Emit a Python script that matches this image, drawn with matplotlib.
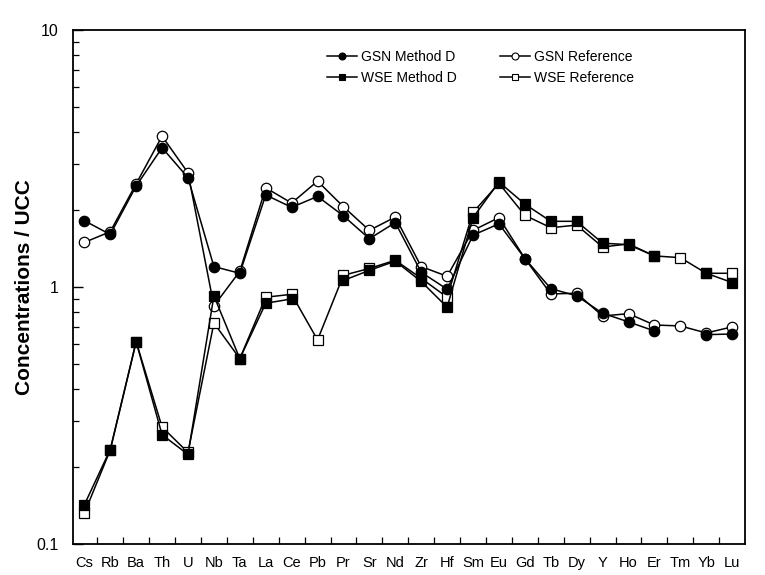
import numpy as np
import matplotlib
matplotlib.use("Agg")
import matplotlib.pyplot as plt
from matplotlib.ticker import FixedLocator, FuncFormatter, NullFormatter

plt.rcParams['font.family'] = ['Liberation Sans', 'DejaVu Sans']

elements = ['Cs', 'Rb', 'Ba', 'Th', 'U', 'Nb', 'Ta', 'La', 'Ce', 'Pb', 'Pr', 'Sr', 'Nd',
            'Zr', 'Hf', 'Sm', 'Eu', 'Gd', 'Tb', 'Dy', 'Y', 'Ho', 'Er', 'Tm', 'Yb', 'Lu']

nan = np.nan
# UCC-normalised concentrations (gaps where Method D gives no value)
gsn_method_d = [1.81, 1.60, 2.47, 3.48, 2.66, 1.20, 1.13, 2.28, 2.04, 2.25, 1.89, 1.54, 1.78,
                1.14, 0.98, 1.59, 1.76, 1.29, 0.985, 0.923, 0.79, 0.731, 0.674, nan, 0.652, 0.656]
gsn_reference = [1.49, 1.64, 2.52, 3.86, 2.78, 0.844, 1.15, 2.43, 2.12, 2.58, 2.05, 1.66, 1.87,
                 1.20, 1.10, 1.66, 1.86, 1.29, 0.939, 0.945, 0.771, 0.787, 0.711, 0.705, 0.662, 0.699]
wse_method_d = [0.142, 0.233, 0.612, 0.266, 0.223, 0.923, 0.526, 0.864, 0.898, nan, 1.06, 1.16, 1.26,
                1.05, 0.834, 1.86, 2.56, 2.10, 1.80, 1.80, 1.48, 1.46, 1.32, nan, 1.13, 1.04]
wse_reference = [0.1316, 0.232, 0.612, 0.285, 0.227, 0.724, 0.526, 0.912, 0.936, 0.622, 1.11, 1.18, 1.27,
                 1.08, 0.912, 1.95, 2.53, 1.90, 1.70, 1.74, 1.43, 1.47, 1.32, 1.30, 1.13, 1.13]

fig = plt.figure(figsize=(7.65, 5.75), dpi=100)
ax = fig.add_axes([0.095, 0.054, 0.879, 0.894])

x = np.arange(len(elements))


def draw(values, marker, face, label):
    ax.plot(x, values, color='black', lw=1.1, marker=marker, ms=7.5 if marker == 'o' else 7.2,
            mfc=face, mec='black', mew=0.9)
    # small-marker proxy for the legend
    return ax.plot([], [], color='black', lw=1.1, marker=marker, ms=5, mfc=face,
                   mec='black', mew=0.8, label=label)[0]


h_gr = draw(gsn_reference, 'o', 'white', 'GSN Reference')
h_wr = draw(wse_reference, 's', 'white', 'WSE Reference')
h_wd = draw(wse_method_d, 's', 'black', 'WSE Method D')
h_gd = draw(gsn_method_d, 'o', 'black', 'GSN Method D')

ax.set_yscale('log')
ax.set_ylim(0.1, 10)
ax.set_xlim(-0.45, len(elements) - 0.5)

ax.set_xticks(x)
ax.set_xticklabels(elements, fontsize=10.5)
ax.xaxis.set_minor_locator(FixedLocator(x[:-1] + 0.5))
ax.tick_params(axis='x', which='major', length=0, pad=9)
ax.tick_params(axis='x', which='minor', direction='in', length=5, width=0.9)

ax.yaxis.set_major_formatter(FuncFormatter(lambda v, p: '%g' % v))
ax.yaxis.set_minor_formatter(NullFormatter())
ax.tick_params(axis='y', which='major', direction='in', length=7, width=1, labelsize=11.5, pad=10)
ax.tick_params(axis='y', which='minor', direction='in', length=4.5, width=0.9)

for s in ax.spines.values():
    s.set_linewidth(1.3)

ax.set_ylabel('Concentrations / UCC', fontsize=15, fontweight='bold', labelpad=2)

ax.legend(handles=[h_gd, h_wd, h_gr, h_wr], ncol=2, frameon=False, fontsize=10,
          handlelength=2.15, handletextpad=0.3, columnspacing=3.1, labelspacing=0.5,
          borderpad=0, borderaxespad=0, loc='upper left',
          bbox_to_anchor=(327 / 765, 1 - 50 / 575), bbox_transform=fig.transFigure)

fig.savefig('out.png', dpi=100)
